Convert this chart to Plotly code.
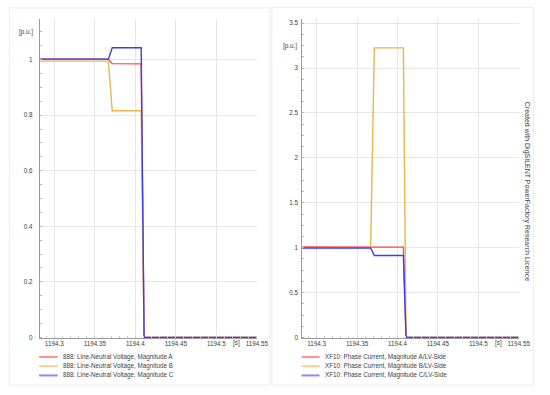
import plotly.graph_objects as go

# ---- data ----
t_left = [1194.28, 1194.3668, 1194.3715, 1194.4072, 1194.4108, 1194.55]
volt_a = [1.002, 1.002, 0.986, 0.985, 0.0, 0.0]
volt_b = [0.995, 0.995, 0.816, 0.816, 0.0, 0.0]
volt_c = [1.002, 1.002, 1.043, 1.043, 0.0, 0.0]

t_right = [1194.28, 1194.3668, 1194.3714, 1194.4073, 1194.4106, 1194.55]
curr_a = [1.008, 1.008, 1.006, 1.006, 0.0, 0.0]
curr_b = [1.0, 1.0, 3.225, 3.225, 0.0, 0.0]
curr_c = [0.997, 0.997, 0.912, 0.912, 0.0, 0.0]

x_ticks = [1194.3, 1194.35, 1194.4, 1194.45, 1194.5, 1194.55]
x_ticktext = ["1194.3", "1194.35", "1194.4", "1194.45", "1194.5", "1194.55"]
left_yticks = [0, 0.2, 0.4, 0.6, 0.8, 1]
right_yticks = [0, 0.5, 1, 1.5, 2, 2.5, 3, 3.5]

left_names = ["888: Line-Neutral Voltage, Magnitude A",
              "888: Line-Neutral Voltage, Magnitude B",
              "888: Line-Neutral Voltage, Magnitude C"]
right_names = ["XF10: Phase Current, Magnitude A/LV-Side",
               "XF10: Phase Current, Magnitude B/LV-Side",
               "XF10: Phase Current, Magnitude C/LV-Side"]
colors = ["#ff4a4a", "#e8b64c", "#3b3bff"]

W, H = 550, 395
FONT = "Arial, Liberation Sans, sans-serif"
TXT = "#404040"
FS = 6.3

def px(x):
    return x / W

def py(y):
    return 1 - y / H

fig = go.Figure()
for y, name, c in zip([volt_a, volt_b, volt_c], left_names, colors):
    fig.add_trace(go.Scatter(x=t_left, y=y, name=name, mode="lines",
                             line=dict(color=c, width=1.4), xaxis="x", yaxis="y",
                             showlegend=False))
for y, name, c in zip([curr_a, curr_b, curr_c], right_names, colors):
    fig.add_trace(go.Scatter(x=t_right, y=y, name=name, mode="lines",
                             line=dict(color=c, width=1.4), xaxis="x2", yaxis="y2",
                             showlegend=False))

ydom = [py(340.5), py(19.3)]
common_x = dict(range=[1194.2822, 1194.55], tickvals=x_ticks, ticktext=x_ticktext,
                showgrid=True, gridcolor="#e6e6e6", gridwidth=1,
                showline=True, linecolor="#9a9a9a", linewidth=1,
                ticks="outside", ticklen=0, tickcolor="#bbbbbb",
                tickfont=dict(size=FS, color=TXT, family=FONT), zeroline=False,
                minor=dict(dtick=0.01, ticks="inside", ticklen=2, tickcolor="#cccccc",
                           showgrid=False))
common_y = dict(showgrid=True, gridcolor="#e6e6e6", gridwidth=1,
                showline=True, linecolor="#9a9a9a", linewidth=1,
                ticks="outside", tickcolor="#ffffff",
                tickfont=dict(size=FS, color=TXT, family=FONT), zeroline=False)

fig.update_layout(
    width=W, height=H, margin=dict(l=0, r=0, t=0, b=0),
    paper_bgcolor="white", plot_bgcolor="white",
    font=dict(family=FONT, size=FS, color=TXT),
    xaxis=dict(domain=[px(40.7), px(262.7)], anchor="y", **common_x),
    yaxis=dict(domain=ydom, anchor="x", range=[-0.002, 1.146], tickvals=left_yticks,
               ticklen=5,
               minor=dict(dtick=0.05, ticks="inside", ticklen=2, tickcolor="#bbbbbb",
                          showgrid=False),
               **common_y),
    xaxis2=dict(domain=[px(309), px(530.3)], anchor="y2", **common_x),
    yaxis2=dict(domain=ydom, anchor="x2", range=[-0.005, 3.545], tickvals=right_yticks,
                ticklen=2,
                minor=dict(dtick=0.125, ticks="inside", ticklen=2, tickcolor="#bbbbbb",
                           showgrid=False),
                **common_y),
)

shapes = [
    dict(type="rect", xref="paper", yref="paper", x0=px(9.5), x1=px(276), y0=py(388), y1=py(8),
         line=dict(color="#ececec", width=1)),
    dict(type="rect", xref="paper", yref="paper", x0=px(278), x1=px(545.5), y0=py(388), y1=py(7.5),
         line=dict(color="#ececec", width=1)),
]
annotations = []
rows = [359.7, 369.0, 378.3]
for names, lx0, lx1, tx in [(left_names, 40, 59, 62), (right_names, 308.3, 326.7, 330)]:
    for yy, name, c in zip(rows, names, colors):
        shapes.append(dict(type="line", xref="paper", yref="paper", x0=px(lx0), x1=px(lx1),
                           y0=py(yy), y1=py(yy), line=dict(color=c, width=2), opacity=0.6))
        annotations.append(dict(text=name, xref="paper", yref="paper", x=px(tx), y=py(yy),
                                xanchor="left", yanchor="middle", showarrow=False,
                                font=dict(size=FS, color=TXT, family=FONT)))

annotations += [
    dict(text="[p.u.]", xref="paper", yref="y", x=px(36), y=1.1, xanchor="right",
         yanchor="middle", showarrow=False, font=dict(size=FS, color=TXT, family=FONT)),
    dict(text="[p.u.]", xref="paper", yref="y2", x=px(305.5), y=3.25, xanchor="right",
         yanchor="middle", showarrow=False, font=dict(size=FS, color=TXT, family=FONT)),
    dict(text="[s]", xref="x", yref="paper", x=1194.525, y=py(346), xanchor="center",
         yanchor="middle", showarrow=False, font=dict(size=FS, color=TXT, family=FONT)),
    dict(text="[s]", xref="x2", yref="paper", x=1194.525, y=py(346), xanchor="center",
         yanchor="middle", showarrow=False, font=dict(size=FS, color=TXT, family=FONT)),
    dict(text="Created with DigSILENT PowerFactory Research Licence", xref="paper", yref="paper",
         x=px(539), y=py(192.5), textangle=90, xanchor="center", yanchor="middle",
         showarrow=False, font=dict(size=7, color=TXT, family=FONT)),
]
fig.update_layout(shapes=shapes, annotations=annotations)

fig.write_html("out.html", config={"displayModeBar": False},
               post_script="document.body.style.margin='0px';document.body.style.padding='0px';")
